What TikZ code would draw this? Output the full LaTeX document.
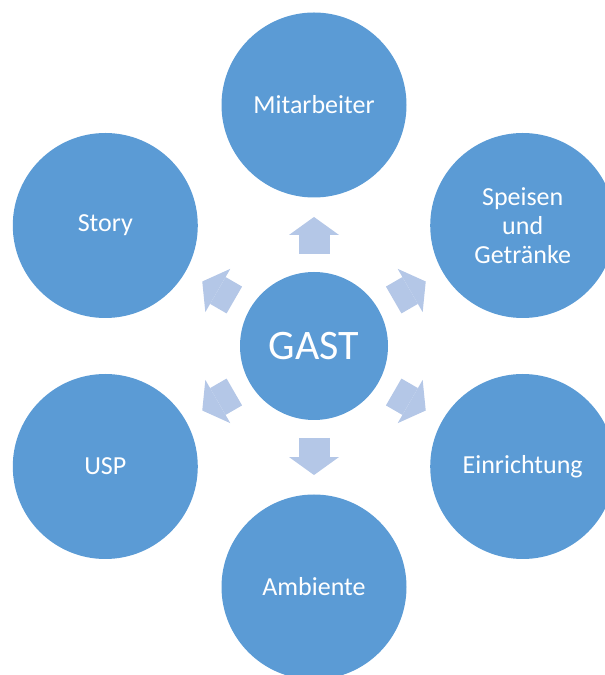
\documentclass[tikz,border=0pt]{standalone}
\usepackage{fontspec}
\setmainfont{Carlito}
\usetikzlibrary{arrows.meta}
\definecolor{circblue}{HTML}{5B9BD5}
\definecolor{arrowblue}{HTML}{B4C7E7}
\tikzstyle{hub} = [circle, minimum size=111pt, inner sep=0pt, outer sep=0pt, fill=circblue, text=white, font=\fontsize{31.5}{36}\selectfont]
\tikzstyle{topic} = [circle, minimum size=138.75pt, inner sep=0pt, outer sep=0pt, fill=circblue, text=white, align=center, font=\fontsize{19.5}{22}\selectfont]
\tikzstyle{arrow} = [arrowblue, line width=23.25pt, -{Triangle[width=37.5pt, length=13.5pt, line width=0pt]}, shorten <=13.5pt, shorten >=14.6pt]

\begin{document}
\begin{tikzpicture}[x=0.75pt, y=0.75pt]
\clip (0,0) rectangle (605,675);

% Nodes
\node (gast) [hub] at (314,329) {GAST};
\node (mitarbeiter) [topic] at ([shift={(90:241)}]gast) {Mitarbeiter};
\node (speisen) [topic] at ([shift={(30:241)}]gast) {Speisen\\und\\Getränke};
\node (einrichtung) [topic] at ([shift={(-30:241)}]gast) {Einrichtung};
\node (ambiente) [topic] at ([shift={(-90:241)}]gast) {Ambiente};
\node (usp) [topic] at ([shift={(210:241)}]gast) {USP};
\node (story) [topic] at ([shift={(150:241)}]gast) {Story};

% Arrows
\draw [arrow] (gast) -- (mitarbeiter);
\draw [arrow] (gast) -- (speisen);
\draw [arrow] (gast) -- (einrichtung);
\draw [arrow] (gast) -- (ambiente);
\draw [arrow] (gast) -- (usp);
\draw [arrow] (gast) -- (story);

\end{tikzpicture}
\end{document}
